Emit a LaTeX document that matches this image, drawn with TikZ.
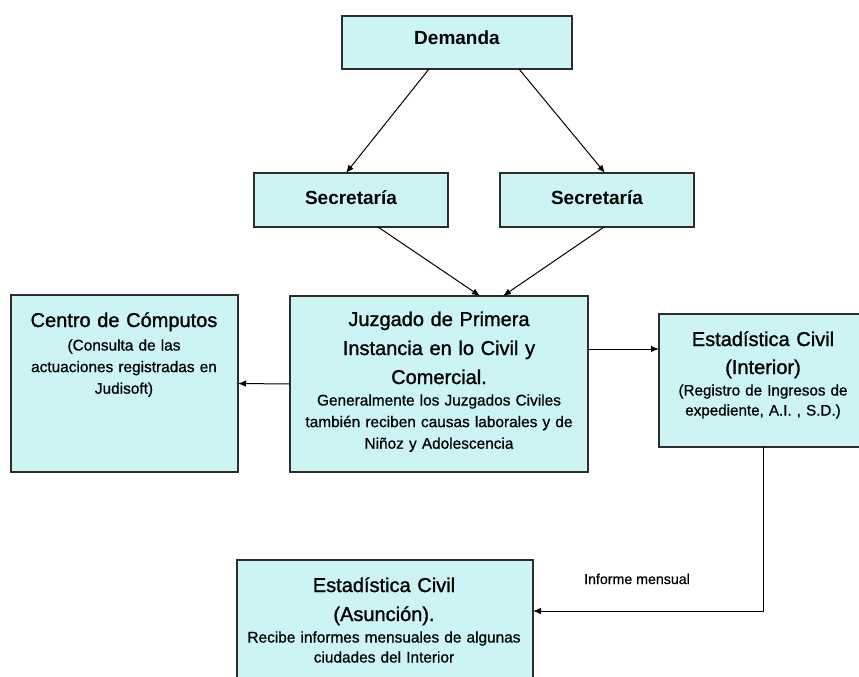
\documentclass[tikz,border=0pt]{standalone}
\usepackage{fontspec}
\setmainfont{Liberation Sans}
\newfontfamily\heavyfont[FakeBold=1.2]{Liberation Sans}
\newfontfamily\midfont[FakeBold=0.7]{Liberation Sans}
\usetikzlibrary{calc,arrows.meta}
\definecolor{boxfill}{RGB}{204,244,244}
\definecolor{boxline}{RGB}{45,45,45}
\begin{document}
\begin{tikzpicture}[x=1pt,y=1pt,
  box/.style={draw=boxline,line width=1.3pt,fill=boxfill,inner sep=0pt,outer sep=0pt},
  ttl/.style={anchor=base,inner sep=0pt,align=center,text width=300pt,font=\heavyfont\fontsize{20}{29}\selectfont},
  sub/.style={anchor=base,inner sep=0pt,align=center,text width=300pt,font=\midfont\fontsize{15.4}{21.6}\selectfont},
  bld/.style={anchor=base,inner sep=0pt,font=\fontsize{19}{23}\selectfont\bfseries},
  lbl/.style={anchor=base,inner sep=0pt,font=\midfont\fontsize{14.2}{17}\selectfont},
  arr/.style={draw=black,line width=1pt,-{Latex[length=8pt,width=6.5pt]}}
]
\useasboundingbox (0,0) rectangle (859,-677);
% boxes
\node[box,minimum width=230,minimum height=53] (dem) at (457,-42.5) {};
\node[box,minimum width=194,minimum height=54] (secl) at (351,-200) {};
\node[box,minimum width=194,minimum height=54] (secr) at (597,-200) {};
\node[box,minimum width=298,minimum height=176] (juz) at (439,-384) {};
\node[box,minimum width=227,minimum height=177] (cen) at (124.5,-383.5) {};
\node[box,minimum width=208,minimum height=133] (int) at (763,-380.5) {};
\node[box,minimum width=296,minimum height=140] (asu) at (385,-630) {};
% texts
\node[bld] (demt) at (457,-45) {Demanda};
\node[bld] (seclt) at (351,-204) {Secretaría};
\node[bld] (secrt) at (597,-204) {Secretaría};
\node[ttl] (cent) at (124,-327) {Centro de Cómputos};
\node[sub] (cens) at (124,-350.5) {(Consulta de las\\actuaciones registradas en\\Judisoft)};
\node[ttl] (juzt) at (439,-326) {Juzgado de Primera\\Instancia en lo Civil y\\Comercial.};
\node[sub] (juzs) at (439,-405.5) {Generalmente los Juzgados Civiles\\también reciben causas laborales y de\\Niñoz y Adolescencia};
\node[ttl,font=\heavyfont\fontsize{20}{28}\selectfont] (intt) at (763,-346) {Estadística Civil\\(Interior)};
\node[sub,font=\midfont\fontsize{15.2}{20}\selectfont] (ints) at (763,-395.5) {(Registro de Ingresos de\\expediente, A.I. , S.D.)};
\node[ttl] (asut) at (384,-592) {Estadística Civil\\(Asunción).};
\node[sub,font=\midfont\fontsize{15.4}{20}\selectfont] (asus) at (384,-642.5) {Recibe informes mensuales de algunas\\ciudades del Interior};
\node[lbl] (inf) at (637,-584) {Informe mensual};
% connectors
\draw[arr] ($(dem.south)+(-28,0)$) -- ($(secl.north)+(-5,0)$);
\draw[arr] ($(dem.south)+(62,0)$) -- ($(secr.north)+(8,0)$);
\draw[arr] ($(secl.south)+(27,0)$) -- ($(juz.north)+(41,0)$);
\draw[arr] ($(secr.south)+(7,0)$) -- ($(juz.north)+(64,0)$);
\draw[arr] (juz.west) -- (cen.east);
\draw[arr] ($(juz.east)+(0,35)$) coordinate (j1) -- (j1 -| int.west);
\draw[arr] (int.south) |- ($(asu.east)+(0,19)$);
\end{tikzpicture}
\end{document}
